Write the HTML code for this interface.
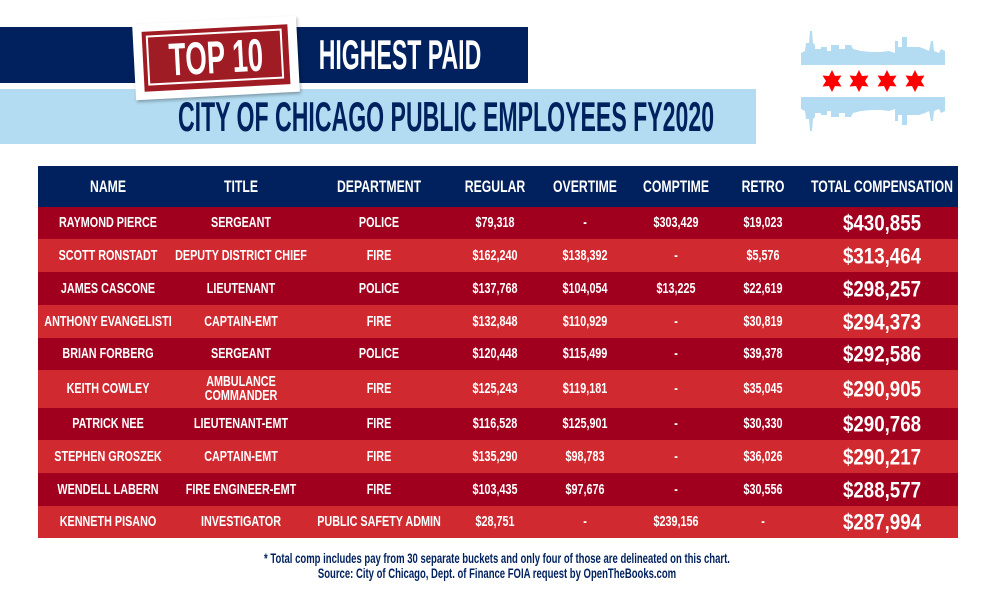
<!DOCTYPE html>
<html><head><meta charset="utf-8">
<style>
body{margin:0;width:996px;height:596px;background:#fff;position:relative;overflow:hidden;font-family:"Liberation Sans Narrow","Liberation Sans",sans-serif;font-weight:bold}
.abs{position:absolute}
.c{position:absolute;transform:translateX(-50%);white-space:nowrap;text-align:center;color:#fff}
.row{position:absolute;left:38px;width:920px}
.cell{position:absolute;top:50%;transform:translate(-50%,-50%) scaleX(0.72);white-space:nowrap;text-align:center;color:#fff;font-size:15px;line-height:14px}
.tot{font-size:22px;line-height:21px;transform:translate(-50%,-50%) scaleX(0.85)}
</style></head><body>
<div class="abs" style="left:0;top:27px;width:528px;height:56px;background:#00215e"></div>
<div class="abs" style="left:0;top:89px;width:756px;height:55px;background:#b3dcf2"></div>
<div class="abs" style="left:134px;top:20px;width:164px;height:76px;background:#fff;transform:rotate(-3deg);box-shadow:1px 2px 3px rgba(0,0,0,.3)">
 <div class="abs" style="left:9px;top:8px;width:146px;height:60px;background:#a01c24"></div>
 <div class="abs" style="left:13px;top:12px;width:136px;height:50px;border:2px solid #fff;box-sizing:border-box"></div>
 <div class="c" style="left:82px;top:12px;font-size:46px;line-height:50px;transform:translateX(-50%) scaleX(.6)">TOP 10</div>
</div>
<div class="c" style="left:400px;top:32px;font-size:42px;line-height:46px;transform:translateX(-50%) scaleX(.55)">HIGHEST PAID</div>
<div class="c" style="left:446px;top:94px;font-size:42px;line-height:46px;color:#00215e;transform:translateX(-50%) scaleX(.55)">CITY OF CHICAGO PUBLIC EMPLOYEES FY2020</div>
<svg class="abs" style="left:801px;top:31px" width="145" height="100" viewBox="0 0 145 100">
 <path d="M0,34 L0,22 L4,20 L5,12 L8,12 L9,0 L11,0 L12,12 L14,14 L14,18 L20,18 L20,16 L26,16 L26,20 L30,20 L30,14 L38,14 L38,18 L44,18 L44,14 L50,14 L52,18 L60,20 L70,21 L80,21 L88,20 L94,22 L94,10 L97,10 L97,16 L101,16 L101,6 L106,6 L106,16 L110,16 L118,16 L124,18 L128,20 L130,10 L132,10 L133,20 L138,22 L140,18 L144,20 L144,34 Z" fill="#b3dcf2"/>
 <path d="M0,66 L0,78 L4,80 L5,88 L8,88 L9,100 L11,100 L12,88 L14,86 L14,82 L20,82 L20,84 L26,84 L26,80 L30,80 L30,86 L38,86 L38,82 L44,82 L44,86 L50,86 L52,82 L60,80 L70,79 L80,79 L88,80 L94,78 L94,90 L97,90 L97,84 L101,84 L101,94 L106,94 L106,84 L110,84 L118,84 L124,82 L128,80 L130,90 L132,90 L133,80 L138,78 L140,82 L144,80 L144,66 Z" fill="#b3dcf2"/>
 <g fill="#f00">
  <polygon id="st" points="0,-11 3,-5 9.5,-5.5 6,0 9.5,5.5 3,5 0,11 -3,5 -9.5,5.5 -6,0 -9.5,-5.5 -3,-5" transform="translate(31,50)"/>
  <use href="#st" x="27"/><use href="#st" x="55"/><use href="#st" x="83"/>
 </g>
</svg>
<div class="abs" style="left:38px;top:166px;width:920px;height:41px;background:#00215e"></div>
<div id="tbl"></div>
<div class="c" style="left:497px;top:551px;font-size:14px;line-height:15px;color:#00215e;font-weight:bold;transform:translateX(-50%) scaleX(.68)">* Total comp includes pay from 30 separate buckets and only four of those are delineated on this chart.<br>Source: City of Chicago, Dept. of Finance FOIA request by OpenTheBooks.com</div>
<script>
const headers=["NAME","TITLE","DEPARTMENT","REGULAR","OVERTIME","COMPTIME","RETRO","TOTAL COMPENSATION"];
const names=["RAYMOND PIERCE","SCOTT RONSTADT","JAMES CASCONE","ANTHONY EVANGELISTI","BRIAN FORBERG","KEITH COWLEY","PATRICK NEE","STEPHEN GROSZEK","WENDELL LABERN","KENNETH PISANO"];
const titles=["SERGEANT","DEPUTY DISTRICT CHIEF","LIEUTENANT","CAPTAIN-EMT","SERGEANT","AMBULANCE<br>COMMANDER","LIEUTENANT-EMT","CAPTAIN-EMT","FIRE ENGINEER-EMT","INVESTIGATOR"];
const depts=["POLICE","FIRE","POLICE","FIRE","POLICE","FIRE","FIRE","FIRE","FIRE","PUBLIC SAFETY ADMIN"];
const regular=["$79,318","$162,240","$137,768","$132,848","$120,448","$125,243","$116,528","$135,290","$103,435","$28,751"];
const overtime=["-","$138,392","$104,054","$110,929","$115,499","$119,181","$125,901","$98,783","$97,676","-"];
const comptime=["$303,429","-","$13,225","-","-","-","-","-","-","$239,156"];
const retro=["$19,023","$5,576","$22,619","$30,819","$39,378","$35,045","$30,330","$36,026","$30,556","-"];
const totals=["$430,855","$313,464","$298,257","$294,373","$292,586","$290,905","$290,768","$290,217","$288,577","$287,994"];
const colX=[70,203,341,457,547,638,725,844];
const rowH=[32,33,33,33,32,38,32,33,33,32];
const tbl=document.getElementById('tbl');
headers.forEach((h,i)=>{
 const d=document.createElement('div');
 
 
 d.className='cell';d.style.position='absolute';d.style.left=(38+colX[i])+'px';d.style.top='187px';d.style.fontSize='17px';
 d.textContent=h;document.body.appendChild(d);
});
let y=207;
names.forEach((n,r)=>{
 const row=document.createElement('div');
 
 
 row.className='row';row.style.top=y+'px';row.style.height=rowH[r]+'px';
 row.style.background=r%2?'#d02a30':'#a0001e';
 const vals=[n,titles[r],depts[r],regular[r],overtime[r],comptime[r],retro[r],totals[r]];
 vals.forEach((v,i)=>{
  const c=document.createElement('div');
  
  
  c.className='cell'+(i==7?' tot':'');c.style.left=colX[i]+'px';c.innerHTML=v;
  row.appendChild(c);
 });
 tbl.appendChild(row);y+=rowH[r];
});
</script>
</body></html>
